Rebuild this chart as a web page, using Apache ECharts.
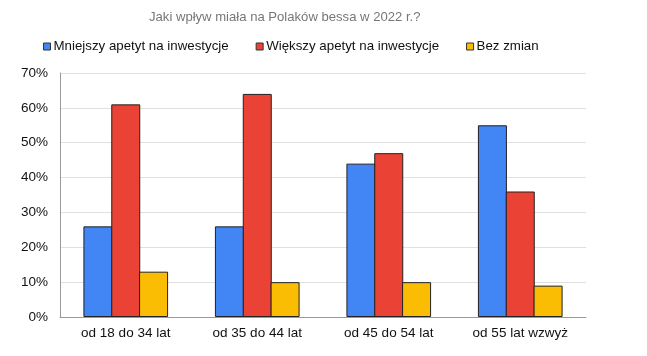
<!DOCTYPE html>
<html>
<head>
<meta charset="utf-8">
<script src="https://cdn.jsdelivr.net/npm/echarts@6/dist/echarts.min.js"></script>
<style>
  html, body { margin: 0; padding: 0; background: #fff; }
  #chart { width: 647px; height: 356px; }
</style>
</head>
<body>
<div id="chart"></div>
<script>
const categories = ['od 18 do 34 lat', 'od 35 do 44 lat', 'od 45 do 54 lat', 'od 55 lat wzwyż'];
const seriesNames = ['Mniejszy apetyt na inwestycje', 'Większy apetyt na inwestycje', 'Bez zmian'];
const mniejszy = [26, 26, 44, 55];
const wiekszy = [61, 64, 47, 36];
const bezZmian = [13, 10, 10, 9];
const colors = ['#4285F4', '#EA4335', '#FBBC04'];

const chart = echarts.init(document.getElementById('chart'));

const makeSeries = (name, data, color) => ({
  name: name,
  type: 'bar',
  data: data,
  barWidth: 29,
  barGap: '-4%',
  itemStyle: { color: color, borderColor: '#222', borderWidth: 1 },
});

const option = {
  animation: false,
  textStyle: { fontFamily: 'Liberation Sans, Arial, sans-serif' },
  title: {
    text: 'Jaki wpływ miała na Polaków bessa w 2022 r.?',
    left: 149,
    top: 11,
    padding: 0,
    textStyle: { color: '#777', fontSize: 13.1, fontWeight: 'normal' },
  },
  legend: {
    left: 43,
    top: 40,
    padding: 0,
    icon: 'rect',
    itemWidth: 7,
    itemHeight: 7,
    itemGap: 27,
    itemStyle: { borderColor: '#333', borderWidth: 1 },
    textStyle: { color: '#111', fontSize: 13.3, padding: [0, 0, 0, -2] },
  },
  grid: { left: 60, right: 61, top: 73, bottom: 39 },
  xAxis: {
    type: 'category',
    data: categories,
    axisLine: { lineStyle: { color: '#999' } },
    axisTick: { show: false },
    axisLabel: { color: '#111', fontSize: 13.5, margin: 9, interval: 0 },
  },
  yAxis: {
    type: 'value',
    min: 0,
    max: 70,
    interval: 10,
    axisLine: { show: true, lineStyle: { color: '#999' } },
    axisTick: { show: false },
    splitLine: { lineStyle: { color: '#e0e0e0' } },
    axisLabel: { color: '#111', fontSize: 13.5, margin: 12, formatter: '{value}%' },
  },
  series: [
    makeSeries(seriesNames[0], mniejszy, colors[0]),
    makeSeries(seriesNames[1], wiekszy, colors[1]),
    makeSeries(seriesNames[2], bezZmian, colors[2]),
  ],
};

chart.setOption(option);
</script>
</body>
</html>
